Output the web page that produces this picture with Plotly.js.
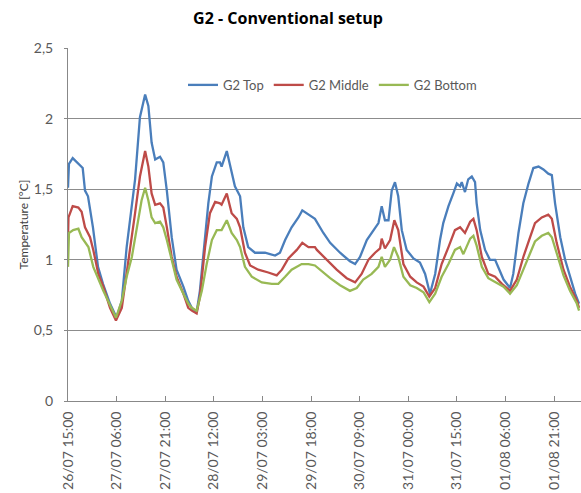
<!DOCTYPE html>
<html>
<head>
<meta charset="utf-8">
<script src="https://cdn.plot.ly/plotly-3.0.1.min.js"></script>
<style>html,body{margin:0;padding:0;background:#fff;}#chart{width:581px;height:493px;}</style>
</head>
<body>
<div id="chart"></div>
<script>
// Hours elapsed since 26/07 15:00 and temperature readings [°C]
const startTime = "2013-07-26T15:00:00";

const topHours = [0,0.3,1.45,3.7,4.54,5.25,6.17,7.7,9.26,10.8,12.96,15.0,16.6,18.1,19.1,20.7,22.2,23.8,24.8,25.8,26.9,28.4,29.4,30.5,32.0,33.5,35.6,37.1,38.2,39.7,40.7,42.3,43.3,44.4,45.9,46.9,47.4,49.0,50.0,51.5,53.1,54.1,55.6,57.7,60.8,63.9,65.4,67.0,69.0,71.1,72.3,74.2,76.2,78.8,80.9,83.95,87.0,88.6,90.1,92.2,94.2,95.8,96.8,97.8,98.9,99.9,100.9,101.9,103.0,104.5,106.6,108.6,110.2,111.7,113.3,114.8,115.8,117.4,118.9,120.0,121.0,121.5,122.5,123.5,124.6,125.6,126.1,127.2,128.7,130.2,131.8,132.8,134.4,136.4,137.4,139.0,140.5,142.1,143.6,145.2,146.7,148.2,149.3,150.3,151.9,153.4,154.9,156.5,157.7];
const topValues = [1.51,1.68,1.72,1.67,1.65,1.49,1.45,1.23,0.95,0.83,0.69,0.59,0.71,1.09,1.26,1.57,2.01,2.17,2.09,1.83,1.71,1.73,1.69,1.49,1.16,0.93,0.81,0.71,0.66,0.63,0.78,1.14,1.40,1.59,1.69,1.69,1.66,1.77,1.66,1.52,1.45,1.23,1.09,1.05,1.05,1.03,1.05,1.14,1.23,1.30,1.35,1.32,1.29,1.19,1.12,1.05,0.99,0.97,1.02,1.14,1.21,1.26,1.38,1.28,1.28,1.49,1.55,1.45,1.21,1.07,1.01,0.98,0.90,0.76,0.90,1.14,1.26,1.38,1.47,1.54,1.52,1.55,1.48,1.57,1.59,1.55,1.40,1.21,1.07,1.00,1.00,0.95,0.86,0.80,0.90,1.19,1.40,1.54,1.65,1.66,1.64,1.61,1.60,1.40,1.16,1.00,0.88,0.76,0.69];

const middleHours = [0,0.15,1.45,3.2,4.2,5.25,6.8,7.8,9.35,10.9,12.96,14.8,16.6,18.1,19.1,20.7,22.2,23.8,24.8,25.8,26.9,28.4,29.4,30.5,32.0,33.5,35.6,37.1,38.2,39.7,40.7,42.3,43.8,45.4,46.9,47.4,49.0,50.5,52.1,53.1,54.6,56.2,58.7,61.8,64.4,66.0,68.0,70.6,72.3,74.2,76.2,76.8,79.8,82.9,86.0,88.6,90.6,92.7,94.75,96.3,96.8,97.8,99.4,100.7,101.9,103.5,105.6,107.6,109.7,111.5,113.3,115.3,117.4,119.4,121.0,122.5,124.1,125.1,126.1,127.7,129.7,131.8,133.9,136.4,138.5,140.5,142.6,144.1,146.2,148.2,149.3,150.8,152.9,154.9,157.0,157.7];
const middleValues = [1.14,1.30,1.38,1.37,1.34,1.23,1.16,1.07,0.90,0.81,0.66,0.57,0.66,0.93,1.07,1.33,1.59,1.77,1.66,1.47,1.39,1.40,1.37,1.23,1.02,0.88,0.76,0.66,0.64,0.62,0.74,1.09,1.33,1.41,1.40,1.39,1.47,1.33,1.29,1.23,1.05,0.96,0.93,0.91,0.89,0.93,1.01,1.07,1.12,1.09,1.09,1.07,1.00,0.93,0.87,0.84,0.90,1.00,1.05,1.08,1.15,1.08,1.14,1.28,1.21,0.97,0.88,0.84,0.81,0.74,0.80,0.97,1.09,1.21,1.23,1.19,1.27,1.29,1.21,1.02,0.90,0.88,0.83,0.78,0.86,1.02,1.16,1.26,1.30,1.32,1.29,1.12,0.93,0.81,0.71,0.66];

const bottomHours = [0,0.3,1.6,3.2,4.2,5.25,6.3,7.8,9.35,10.9,12.96,14.8,16.6,18.1,19.7,21.2,22.7,23.8,24.8,25.8,26.9,28.4,29.4,30.5,32.0,33.5,35.6,37.1,38.2,39.7,41.3,42.8,44.4,45.9,47.4,49.0,50.5,52.1,53.1,54.6,56.7,59.8,62.9,64.9,67.0,69.0,72.1,74.2,76.2,77.8,80.9,83.95,87.0,89.1,91.1,93.7,95.8,96.8,97.8,99.4,100.6,101.9,103.5,105.6,107.6,109.7,111.5,113.3,115.3,117.4,119.4,121.0,122.0,124.1,125.1,126.1,127.7,129.7,132.3,134.4,136.4,138.5,140.5,142.6,144.1,146.2,148.2,149.3,150.8,152.9,154.9,157.0,157.7];
const bottomValues = [0.95,1.19,1.21,1.22,1.16,1.12,1.09,0.95,0.86,0.78,0.68,0.59,0.71,0.88,1.02,1.23,1.42,1.51,1.42,1.30,1.26,1.27,1.23,1.14,1.00,0.86,0.76,0.69,0.66,0.64,0.78,0.97,1.14,1.21,1.21,1.28,1.19,1.14,1.09,0.95,0.88,0.84,0.83,0.83,0.88,0.93,0.97,0.97,0.96,0.93,0.87,0.82,0.78,0.80,0.86,0.90,0.95,1.02,0.95,1.00,1.09,1.02,0.88,0.82,0.80,0.77,0.70,0.76,0.88,0.97,1.07,1.09,1.04,1.15,1.17,1.10,0.95,0.87,0.84,0.81,0.76,0.82,0.93,1.04,1.13,1.17,1.19,1.16,1.05,0.89,0.78,0.69,0.64];

const seriesNames = ["G2 Top", "G2 Middle", "G2 Bottom"];
const yTickVals = [0, 0.5, 1, 1.5, 2, 2.5];
const xRangeHours = [0, 158.3];
const tickStepHours = 15;

const H = 3600000;
const t0 = Date.parse(startTime + "Z");
function toDate(h) { return new Date(t0 + h * H).toISOString().replace("Z", "").slice(0, 19); }

const colors = ["#4A7EBB", "#BE4B48", "#98B954"];
const font = "Lato, 'Open Sans', sans-serif";

const traces = [
  [topHours, topValues],
  [middleHours, middleValues],
  [bottomHours, bottomValues]
].map((s, i) => ({
  type: "scatter",
  mode: "lines",
  name: seriesNames[i],
  x: s[0].map(toDate),
  y: s[1],
  line: { color: colors[i], width: 2.3 },
  hoverinfo: "skip"
}));

const layout = {
  width: 581, height: 493,
  margin: { l: 68, r: 0, t: 48, b: 92 },
  paper_bgcolor: "#ffffff",
  plot_bgcolor: "#ffffff",
  separators: ",.",
  font: { family: font, color: "#595959", size: 14 },
  title: {
    text: "G2 - Conventional setup",
    font: { family: "'Open Sans', sans-serif", size: 16, color: "#000000", weight: "bold" },
    x: 288 / 581, xanchor: "center", xref: "container",
    y: 1 - 18 / 493, yanchor: "middle"
  },
  showlegend: true,
  legend: {
    orientation: "h",
    x: (183 - 68) / 513, xanchor: "left",
    y: (401.5 - 85) / 353.5, yanchor: "middle",
    bgcolor: "rgba(0,0,0,0)",
    font: { family: font, size: 13, color: "#595959" },
    itemwidth: 30
  },
  xaxis: {
    type: "date",
    range: [toDate(xRangeHours[0]), toDate(xRangeHours[1])],
    tick0: toDate(0),
    dtick: tickStepHours * H,
    tickformat: "%d/%m %H:%M",
    tickangle: -90,
    ticks: "inside",
    ticklen: 5,
    tickcolor: "#888888",
    showgrid: false,
    showline: true,
    linecolor: "#888888",
    linewidth: 1,
    zeroline: false,
    tickfont: { family: font, size: 14, color: "#595959" },
    ticklabelstandoff: 4
  },
  yaxis: {
    range: [0, 2.5],
    tickvals: yTickVals,
    showgrid: true,
    gridcolor: "#8C8C8C",
    gridwidth: 1,
    showline: true,
    linecolor: "#888888",
    linewidth: 1,
    zeroline: false,
    ticks: "outside",
    ticklen: 3,
    tickcolor: "#888888",
    tickfont: { family: font, size: 14, color: "#595959" },
    ticklabelstandoff: 8,
    title: { text: "Temperature [°C]", font: { family: font, size: 12, color: "#404040" }, standoff: 2 }
  }
};

Plotly.newPlot("chart", traces, layout, { displayModeBar: false, staticPlot: true });
</script>
</body>
</html>
